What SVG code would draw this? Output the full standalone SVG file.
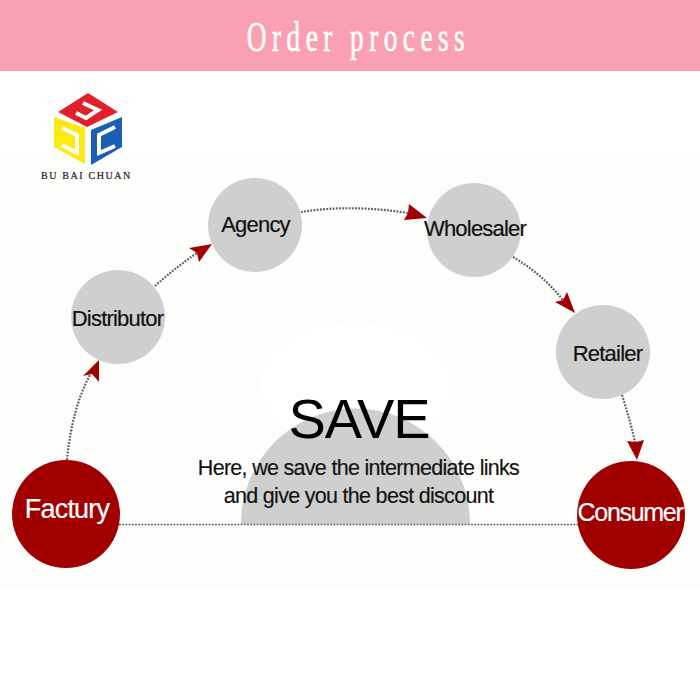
<svg xmlns="http://www.w3.org/2000/svg" width="700" height="700" viewBox="0 0 700 700">
<defs>
<style>
.ln{fill:none;stroke:#5c5c5c;stroke-width:2.2;stroke-dasharray:1.8 1.4}
.head{fill:#a00000}
.g{fill:#cfcfcf}
.r{fill:#a00000}
.lg{fill:none;stroke:#fff;stroke-width:4}
text{font-family:"Liberation Sans",Arial,sans-serif;text-anchor:middle}
.k{fill:#111;font-size:22px;letter-spacing:-.8px;stroke:#111;stroke-width:.2px}
.w{fill:#fff;font-size:27px;letter-spacing:-.8px;stroke:#fff;stroke-width:.2px}
.s{fill:#111;font-size:21.500px;letter-spacing:-.7px;stroke:#111;stroke-width:.15px}
</style>
</defs>
<rect width="700" height="700" fill="#fff"/>
<rect y="155" width="700" height="433" fill="#fdfdfb"/>
<ellipse cx="355" cy="385" rx="95" ry="62" fill="#fff"/>
<path class="g" d="M241 524A114.500 115.500 0 0 1 470 524Z"/>
<rect width="700" height="71" fill="#f9a0b2"/>
<text x="0" y="51" fill="#fff" stroke="#fff" stroke-width=".7" transform="translate(358.500 0) scale(.65 1)" style="font-family:'Liberation Serif',serif;letter-spacing:8.400px;font-size:42px">Order process</text>
<g id="logo">
<path d="M88 93 118 112 87 127 58 112Z" fill="#e2202c"/>
<path d="M83 103 98 110 86 118 76 113" class="lg"/>
<path d="M54 117 85 128V164L54 147Z" fill="#fdea10"/>
<path d="M62 128 77 135V153L62 145" class="lg"/>
<path d="M122 117 91 130V165L122 147Z" fill="#1a5fb4"/>
<path d="M115 127 99 135V153L115 146" class="lg"/>
<text x="86.500" y="179" fill="#222" stroke="#222" stroke-width=".2" style="font-family:'Liberation Serif',serif;font-size:10px;letter-spacing:1.6px">BU BAI CHUAN</text>
</g>
<g id="connectors">
<path class="ln" d="M67 460Q72 408 90 375"/>
<path class="head" d="M99 360 83 376 92 374 99 382Z"/>
<path class="ln" d="M155 286Q175 268 197 253"/>
<path class="head" d="M212 244 189 248 197 253 199 262Z"/>
<path class="ln" d="M301 212Q350 204 408 213"/>
<path class="head" d="M427 218 409 204 408 213 404 220Z"/>
<path class="ln" d="M513 257Q542 274 563 300"/>
<path class="head" d="M575 313 567 292 563 300 555 302Z"/>
<path class="ln" d="M622 395Q630 420 635 442"/>
<path class="head" d="M637 460 644 440 636 442 627 441Z"/>
<path class="ln" d="M119 524.500H578" style="stroke-width:1.600px"/>
</g>
<g id="node-factory"><circle class="r" cx="66" cy="514" r="54"/><text class="w" x="67" y="518">Factury</text></g>
<g id="node-distributor"><circle class="g" cx="118" cy="317" r="47"/><text class="k" x="117.500" y="326">Distributor</text></g>
<g id="node-agency"><circle class="g" cx="255" cy="225" r="47"/><text class="k" x="255.500" y="232">Agency</text></g>
<g id="node-wholesaler"><circle class="g" cx="474" cy="230" r="47"/><text class="k" x="475" y="236">Wholesaler</text></g>
<g id="node-retailer"><circle class="g" cx="603" cy="352" r="47"/><text class="k" x="607.500" y="361">Retailer</text></g>
<g id="node-consumer"><circle class="r" cx="631" cy="515" r="54"/><text class="w" x="630" y="521" style="font-size:25px;letter-spacing:-1.300px">Consumer</text></g>
<g id="save">
<text x="359" y="438" font-size="56" fill="#000" style="letter-spacing:-1px">SAVE</text>
<text class="s" x="358.500" y="475">Here, we save the intermediate links</text>
<text class="s" x="358.500" y="503">and give you the best discount</text>
</g>
</svg>
